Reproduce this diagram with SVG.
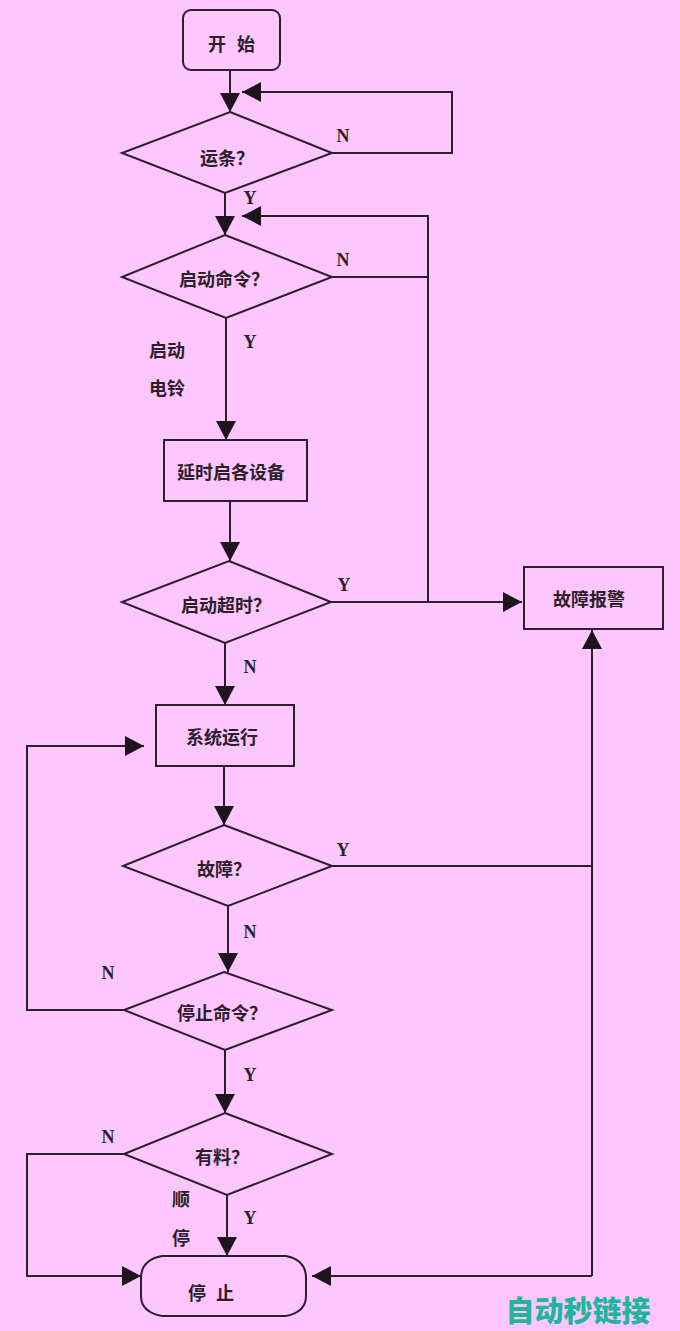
<svg xmlns="http://www.w3.org/2000/svg" width="680" height="1331" viewBox="0 0 680 1331">
<style>
.bg{fill:#fec6fe}
.shp{fill:none;stroke:#2b1f2b;stroke-width:2}
.ln{fill:none;stroke:#2b1f2b;stroke-width:2}
.t{font-family:"Noto Sans CJK SC","Noto Sans",sans-serif;font-size:18px;font-weight:bold;fill:#2b1f2b;text-anchor:middle;dominant-baseline:central}
.l{font-family:"Liberation Serif",serif;font-size:18px;font-weight:bold;fill:#2b1f2b;text-anchor:middle;dominant-baseline:central}
.wm{font-family:"Noto Sans CJK SC",sans-serif;font-size:29px;font-weight:900;fill:#22b59c;text-anchor:middle;dominant-baseline:central}
</style>
<defs>
<marker id="ah" markerUnits="userSpaceOnUse" markerWidth="20" markerHeight="20" refX="19" refY="10" orient="auto" viewBox="0 0 20 20">
<path d="M0,0 L19,10 L0,20 Z" fill="#1e141e"/>
</marker>
</defs>
<rect class="bg" x="0" y="0" width="680" height="1331"/>

<g id="connectors">
<path class="ln" d="M230 70 V112" marker-end="url(#ah)"/>
<path class="ln" d="M332 153 H452 V92 H242" marker-end="url(#ah)"/>
<path class="ln" d="M225 193 V235" marker-end="url(#ah)"/>
<path class="ln" d="M332 277 H428"/>
<path class="ln" d="M428 602 V216 H242" marker-end="url(#ah)"/>
<path class="ln" d="M226 318 V440" marker-end="url(#ah)"/>
<path class="ln" d="M230 501 V561" marker-end="url(#ah)"/>
<path class="ln" d="M331 602 H522" marker-end="url(#ah)"/>
<path class="ln" d="M225 643 V705" marker-end="url(#ah)"/>
<path class="ln" d="M224 766 V825" marker-end="url(#ah)"/>
<path class="ln" d="M332 866 H592"/>
<path class="ln" d="M592 1276 V630" marker-end="url(#ah)"/>
<path class="ln" d="M592 1276 H312" marker-end="url(#ah)"/>
<path class="ln" d="M228 906 V972" marker-end="url(#ah)"/>
<path class="ln" d="M124 1010 H27 V746 H144" marker-end="url(#ah)"/>
<path class="ln" d="M225 1050 V1113" marker-end="url(#ah)"/>
<path class="ln" d="M124 1154 H27 V1276 H141" marker-end="url(#ah)"/>
<path class="ln" d="M227 1195 V1256" marker-end="url(#ah)"/>
</g>

<g id="labels">
<text class="l" x="343" y="136">N</text>
<text class="l" x="250" y="198">Y</text>
<text class="l" x="343" y="260">N</text>
<text class="l" x="250" y="342">Y</text>
<text class="t" x="167" y="349">启动</text>
<text class="t" x="167" y="387">电铃</text>
<text class="l" x="344" y="585">Y</text>
<text class="l" x="250" y="667">N</text>
<text class="l" x="343" y="850">Y</text>
<text class="l" x="250" y="932">N</text>
<text class="l" x="108" y="973">N</text>
<text class="l" x="250" y="1075">Y</text>
<text class="l" x="108" y="1137">N</text>
<text class="t" x="181" y="1198">顺</text>
<text class="t" x="181" y="1237">停</text>
<text class="l" x="250" y="1218">Y</text>
</g>

<g id="start">
<rect class="shp" x="183" y="10" width="97" height="60" rx="8"/>
<text class="t" x="217" y="43">开</text>
<text class="t" x="246" y="43">始</text>
</g>
<g id="d1">
<polygon class="shp" points="230,112 332,153 225,193 122,153"/>
<text class="t" x="227" y="157">运条？</text>
</g>
<g id="d2">
<polygon class="shp" points="225,235 332,277 226,318 122,277"/>
<text class="t" x="224" y="278">启动命令？</text>
</g>
<g id="box3">
<rect class="shp" x="164" y="440" width="143" height="61"/>
<text class="t" x="231" y="471">延时启各设备</text>
</g>
<g id="d3">
<polygon class="shp" points="229,561 331,602 225,643 122,602"/>
<text class="t" x="226" y="604">启动超时？</text>
</g>
<g id="alarm">
<rect class="shp" x="524" y="567" width="139" height="62"/>
<text class="t" x="589" y="598">故障报警</text>
</g>
<g id="run">
<rect class="shp" x="156" y="705" width="138" height="61"/>
<text class="t" x="222" y="736">系统运行</text>
</g>
<g id="d4">
<polygon class="shp" points="224,825 332,866 228,906 123,866"/>
<text class="t" x="224" y="868">故障？</text>
</g>
<g id="d5">
<polygon class="shp" points="224,972 332,1010 225,1050 124,1010"/>
<text class="t" x="222" y="1012">停止命令？</text>
</g>
<g id="d6">
<polygon class="shp" points="225,1113 332,1154 227,1195 124,1154"/>
<text class="t" x="222" y="1156">有料？</text>
</g>
<g id="stop">
<path class="shp" d="M162 1256 H286 Q306 1260 306 1278 V1296 Q306 1312 286 1316 H162 Q141 1312 141 1296 V1278 Q141 1260 162 1256 Z"/>
<text class="t" x="197" y="1292">停</text>
<text class="t" x="225" y="1292">止</text>
</g>
<text class="wm" x="578" y="1309">自动秒链接</text>
</svg>
